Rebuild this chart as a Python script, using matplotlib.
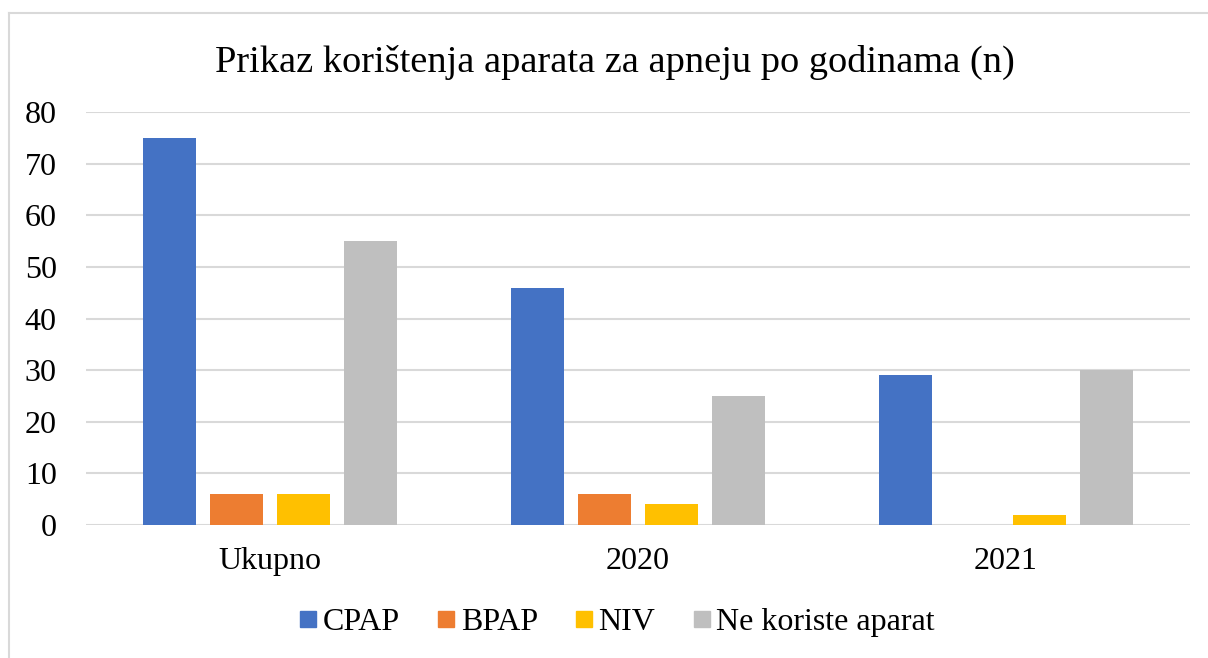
import matplotlib
matplotlib.use("Agg")
import matplotlib.pyplot as plt
import numpy as np
from matplotlib.lines import Line2D

categories = ["Ukupno", "2020", "2021"]
series_names = ["CPAP", "BPAP", "NIV", "Ne koriste aparat"]
cpap = [75, 46, 29]
bpap = [6, 6, 0]
niv = [6, 4, 2]
ne_koriste = [55, 25, 30]
colors = ["#4472C4", "#ED7D31", "#FFC000", "#BFBFBF"]
yticks = [0, 10, 20, 30, 40, 50, 60, 70, 80]
title = "Prikaz korištenja aparata za apneju po godinama (n)"

plt.rcParams['font.family'] = ['Liberation Serif', 'DejaVu Serif']

fig = plt.figure(figsize=(12.08, 6.58), dpi=100)
ax = fig.add_axes([86/1208, 1-525/658, (1190-86)/1208, (525-112.3)/658])

x = np.arange(len(categories))
width = 0.144
pitch = 0.182
data = [cpap, bpap, niv, ne_koriste]
for i, (vals, name, c) in enumerate(zip(data, series_names, colors)):
    ax.bar(x + (i - 1.5) * pitch, vals, width, color=c, label=name, zorder=3)

ax.set_xlim(-0.5, len(categories) - 0.5)
ax.set_ylim(0, 80)
ax.set_yticks(yticks)
ax.set_xticks(x)
ax.set_xticklabels(categories)
ax.tick_params(axis='y', length=0, pad=21, labelsize=23)
ax.tick_params(axis='x', length=0, pad=16, labelsize=23)
ax.grid(axis='y', color='#D9D9D9', linewidth=1.5, zorder=0)
for s in ax.spines.values():
    s.set_visible(False)

fig.text(615/1208, 1-62/658, title, ha='center', va='center', fontsize=27.6)

handles = [Line2D([0], [0], marker='s', linestyle='none', markersize=11.5,
                  markerfacecolor=c, markeredgecolor=c) for c in colors]
fig.legend(handles, series_names, loc='center', bbox_to_anchor=(616/1208, 1-622/658),
           ncol=4, frameon=False, fontsize=23, handlelength=0.7, handletextpad=0.1,
           columnspacing=1.1)

# outer border (top and left visible)
fig.add_artist(Line2D([9/1208, 1], [1-13/658, 1-13/658], color='#D9D9D9', linewidth=1.5,
                      transform=fig.transFigure))
fig.add_artist(Line2D([9/1208, 9/1208], [0, 1-13/658], color='#D9D9D9', linewidth=1.5,
                      transform=fig.transFigure))

fig.savefig("out.png", dpi=100)
